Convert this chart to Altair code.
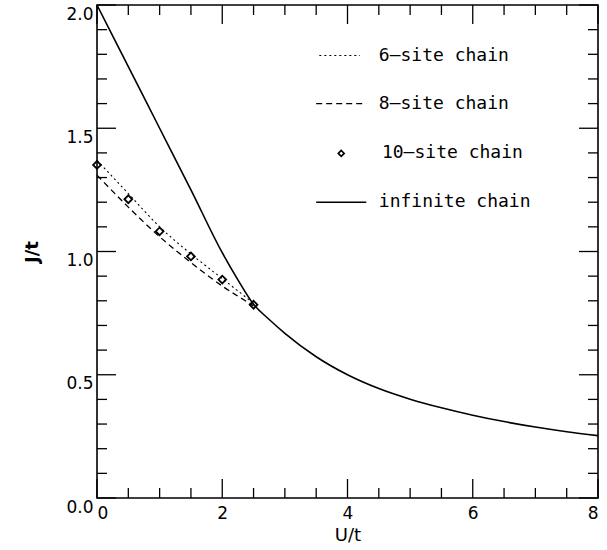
import altair as alt
import pandas as pd

# Infinite chain
u_inf = [0, 0.5, 1.0, 1.5, 2.0, 2.25, 2.5, 2.75, 3.0, 3.5, 4.0, 4.5, 5.0, 5.5, 6.0, 6.5, 7.0, 7.5, 8.0]
j_inf = [2.0, 1.75, 1.50, 1.25, 0.995, 0.885, 0.786, 0.724, 0.668, 0.573, 0.500, 0.444, 0.401, 0.366, 0.336, 0.310, 0.288, 0.269, 0.253]

# Finite chains
u_fin = [0, 0.5, 1.0, 1.5, 2.0, 2.5]
j_6 = [1.37, 1.235, 1.10, 0.99, 0.89, 0.79]
j_8 = [1.31, 1.18, 1.06, 0.955, 0.86, 0.78]
j_10 = [1.351, 1.212, 1.082, 0.98, 0.886, 0.784]

# Legend entries
leg_labels = ["6\u2013site chain", "8\u2013site chain", "10\u2013site chain", "infinite chain"]
leg_y = [1.795, 1.60, 1.398, 1.20]

x_label_vals = [0, 2, 4, 6, 8]
y_label_vals = [0.0, 0.5, 1.0, 1.5, 2.0]

FONT = "DejaVu Sans"
LFONT = "DejaVu Sans Mono"
W, H = 501, 493

xs = alt.Scale(domain=[0, 8], nice=False, zero=False)
ys = alt.Scale(domain=[0, 2], nice=False, zero=False)

df_inf = pd.DataFrame({"U": u_inf, "J": j_inf})
df6 = pd.DataFrame({"U": u_fin, "J": j_6})
df8 = pd.DataFrame({"U": u_fin, "J": j_8})
df10 = pd.DataFrame({"U": u_fin, "J": j_10})

xenc = alt.X("U:Q", scale=xs, axis=alt.Axis(values=x_label_vals, format="d", title="U/t",
                                             ticks=False, domain=False, grid=False,
                                             labelPadding=7, titlePadding=5))
yenc = alt.Y("J:Q", scale=ys, axis=alt.Axis(values=y_label_vals, format=".1f", title="J/t",
                                             ticks=False, domain=False, grid=False,
                                             labelPadding=4, labelBaseline="top", labelOffset=1,
                                             titlePadding=24, titleFontWeight="bold"))

X = alt.X("U:Q", scale=xs)
Y = alt.Y("J:Q", scale=ys)

inf_line = alt.Chart(df_inf).mark_line(color="black", strokeWidth=1.6, interpolate="monotone").encode(x=xenc, y=yenc)
l6 = alt.Chart(df6).mark_line(color="black", strokeWidth=1.1, strokeDash=[2, 3], interpolate="monotone").encode(x=X, y=Y)
l8 = alt.Chart(df8).mark_line(color="black", strokeWidth=1.3, strokeDash=[6, 4], interpolate="monotone").encode(x=X, y=Y)
p10 = alt.Chart(df10).mark_point(shape="diamond", filled=False, color="black", size=60, strokeWidth=1.8,
                                 opacity=1).encode(x=X, y=Y)

# Ticks (inward on all four sides)
xt = [i * 0.5 for i in range(17)]
yt = [round(i * 0.1, 1) for i in range(21)]
xt_major = pd.DataFrame({"U": [v for v in xt if v % 2 == 0]})
xt_minor = pd.DataFrame({"U": [v for v in xt if v % 2 != 0]})
yt_major = pd.DataFrame({"J": [v for v in yt if round(v * 10) % 5 == 0]})
yt_minor = pd.DataFrame({"J": [v for v in yt if round(v * 10) % 5 != 0]})

MAJ, MIN = 19, 10
tick_layers = []
for df, ln in [(xt_major, MAJ), (xt_minor, MIN)]:
    tick_layers.append(alt.Chart(df).mark_tick(orient="vertical", size=ln, thickness=1.3, color="black",
                                               opacity=1).encode(x=X, y=alt.value(H - ln / 2)))
    tick_layers.append(alt.Chart(df).mark_tick(orient="vertical", size=ln, thickness=1.3, color="black",
                                               opacity=1).encode(x=X, y=alt.value(ln / 2)))
for df, ln in [(yt_major, MAJ), (yt_minor, MIN)]:
    tick_layers.append(alt.Chart(df).mark_tick(orient="horizontal", size=ln, thickness=1.3, color="black",
                                               opacity=1).encode(y=Y, x=alt.value(ln / 2)))
    tick_layers.append(alt.Chart(df).mark_tick(orient="horizontal", size=ln, thickness=1.3, color="black",
                                               opacity=1).encode(y=Y, x=alt.value(W - ln / 2)))

# Legend
leg_df = pd.DataFrame({"label": leg_labels, "J": leg_y,
                       "x1": [3.55, 3.5, 3.5, 3.5], "x2": [4.2, 4.3, 4.3, 4.3],
                       "tx": [4.5, 4.5, 4.55, 4.5], "kind": ["6", "8", "10", "inf"]})
leg_text = alt.Chart(leg_df).mark_text(align="left", baseline="middle", font=LFONT, fontSize=18,
                                       color="black").encode(
    x=alt.X("tx:Q", scale=xs), y=Y, text="label:N")
leg6 = alt.Chart(leg_df).transform_filter("datum.kind == '6'").mark_rule(
    color="black", strokeWidth=1.1, strokeDash=[2, 3]).encode(
    x=alt.X("x1:Q", scale=xs), x2="x2:Q", y=Y)
leg8 = alt.Chart(leg_df).transform_filter("datum.kind == '8'").mark_rule(
    color="black", strokeWidth=1.3, strokeDash=[6, 4]).encode(
    x=alt.X("x1:Q", scale=xs), x2="x2:Q", y=Y)
leg10 = alt.Chart(leg_df).transform_filter("datum.kind == '10'").transform_calculate(
    xm="(datum.x1 + datum.x2) / 2").mark_point(
    shape="diamond", filled=False, color="black", size=35, strokeWidth=1.6, opacity=1).encode(
    x=alt.X("xm:Q", scale=xs), y=Y)
leginf = alt.Chart(leg_df).transform_filter("datum.kind == 'inf'").mark_rule(
    color="black", strokeWidth=1.6).encode(
    x=alt.X("x1:Q", scale=xs), x2="x2:Q", y=Y)

chart = alt.layer(inf_line, l6, l8, p10, *tick_layers, leg_text, leg6, leg8, leg10, leginf).properties(
    width=W, height=H,
    autosize=alt.AutoSizeParams(type="none"),
    padding={"left": 97, "top": 5, "right": 9, "bottom": 52},
    background="white",
).configure_view(stroke="black", strokeWidth=1.6).configure_axis(
    labelFont=FONT, titleFont=FONT, labelFontSize=17, titleFontSize=18,
    labelColor="black", titleColor="black", titleFontWeight="normal"
)

chart.save("out.html", embed_options={"renderer": "svg", "actions": False})
